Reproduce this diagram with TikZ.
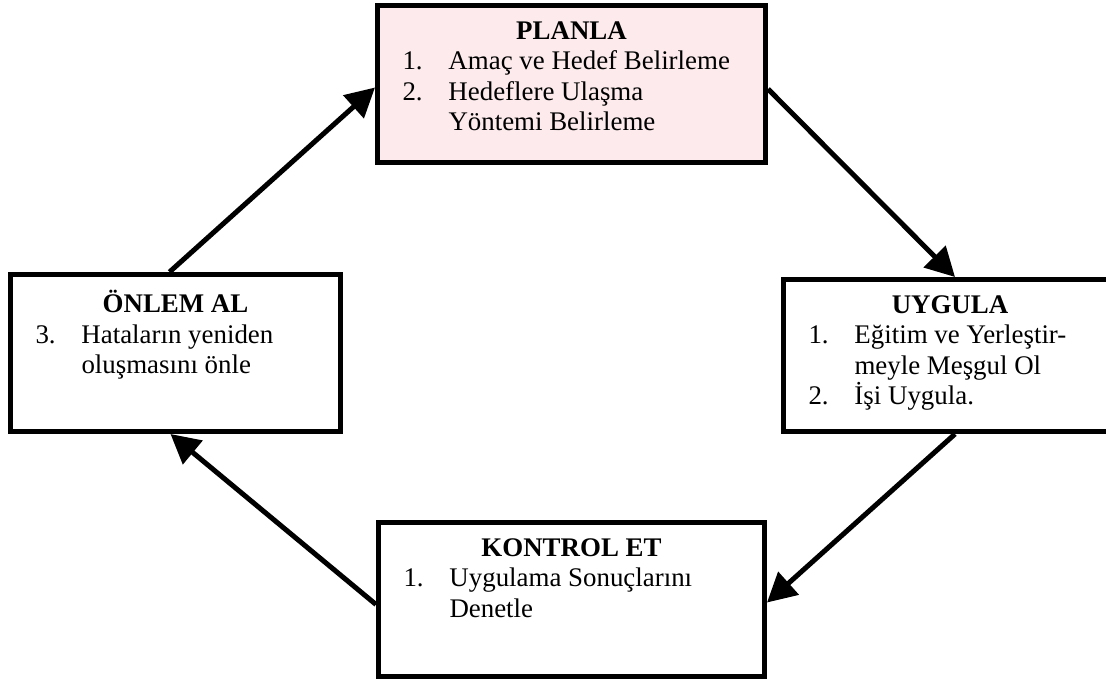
\documentclass[tikz,border=0pt]{standalone}
\usepackage{fontspec}
\setmainfont{Liberation Serif}
\usetikzlibrary{arrows.meta}

\definecolor{wmpink}{RGB}{252,234,236}

\newcommand{\stagebox}[4]{%
\begin{minipage}[t][#2][t]{#1}%
\vspace*{0.32cm}%
{\centering\textbf{#3}\par}%
\raggedright #4%
\end{minipage}}
\newcommand{\stageitem}[2]{\par\hangindent=1.42cm\hangafter=1\hspace*{0.5cm}\makebox[0.92cm][l]{#1}#2}

\begin{document}
\begin{tikzpicture}[
stage/.style={draw, line width=0.1cm, inner sep=0pt, anchor=north west, font=\fontsize{15.3}{17.3}\selectfont},
arr/.style={-{Triangle[length=0.58cm,width=0.6cm]}, line width=0.1cm}]
\useasboundingbox (0,0) rectangle (22.12,-13.56);

\node[stage, fill=wmpink](plan) at (7.50,-0.06){\stagebox{7.76cm}{3.14cm}{PLANLA}{%
\stageitem{1.}{Amaç ve Hedef Belirleme}
\stageitem{2.}{Hedeflere Ulaşma\newline Yöntemi Belirleme}}};
\node[stage](onlem) at (0.16,-5.44){\stagebox{6.60cm}{3.14cm}{ÖNLEM AL}{%
\stageitem{3.}{Hataların yeniden\newline oluşmasını önle}}};
\node[stage](uygula) at (15.62,-5.54){\stagebox{6.66cm}{3.04cm}{UYGULA}{%
\stageitem{1.}{Eğitim ve Yerleştir-\newline meyle Meşgul Ol}
\stageitem{2.}{İşi Uygula.}}};
\node[stage](kontrol) at (7.52,-10.40){\stagebox{7.72cm}{3.08cm}{KONTROL ET}{%
\stageitem{1.}{Uygulama Sonuçlarını\newline Denetle}}};

\path
([xshift=-0.12cm]onlem.north) edge[arr] ([yshift=-0.07cm]plan.west)
([yshift=-0.1cm]plan.east) edge[arr] ([xshift=0.1cm]uygula.north)
([xshift=0.1cm]uygula.south) edge[arr] ([yshift=-0.06cm]kontrol.east)
([yshift=-0.1cm]kontrol.west) edge[arr] ([xshift=-0.1cm]onlem.south);
\end{tikzpicture}
\end{document}
